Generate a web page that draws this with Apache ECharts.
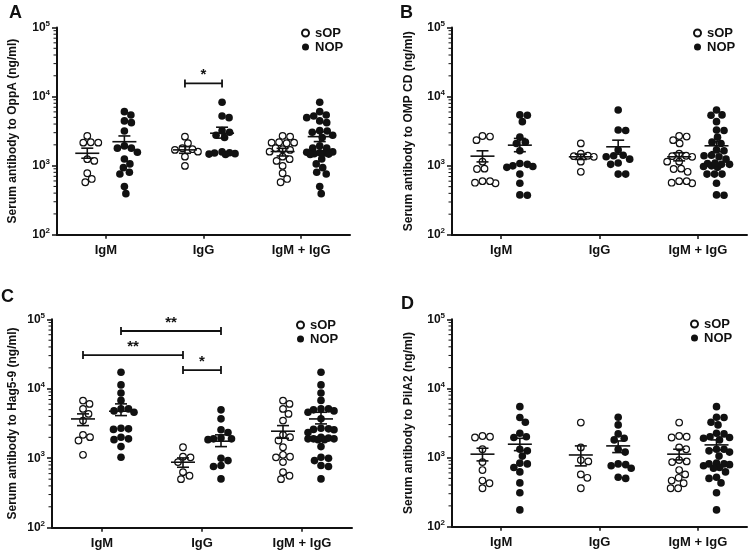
<!DOCTYPE html>
<html>
<head>
<meta charset="utf-8">
<script src="https://cdn.jsdelivr.net/npm/echarts@6/dist/echarts.min.js"></script>
<style>html,body{margin:0;padding:0;background:#fff}#chart{width:750px;height:552px}</style>
</head>
<body>
<div id="chart"></div>
<script>
// ---------- data ----------
const categories = ['IgM', 'IgG', 'IgM + IgG'];
const seriesNames = ['sOP', 'NOP'];
const panelLetters = ['A', 'B', 'C', 'D'];
const antigens = ['OppA', 'OMP CD', 'Hag5-9', 'PilA2'];
const yTickValues = [100, 1000, 10000, 100000];

// Panel A (OppA)
const A_sOP_IgM = [2690, 2150, 2150, 2180, 1170, 1240, 776, 575, 641];
const A_sOP_IgG = [2630, 2110, 1785, 1690, 1730, 1595, 1350, 991];
const A_NOP_IgM = [6050, 5420, 4440, 4190, 3180, 1930, 1790, 1790, 1565, 1250, 1060, 935, 802, 758, 497, 393];
const A_NOP_IgG = [8260, 5240, 4950, 3210, 3040, 2750, 2550, 1580, 1520, 1490, 1470, 1450, 1540];
const A_sOP_mean = [1510, 1690, 1600], A_sOP_lo = [1280, 1510, 1380], A_sOP_hi = [1790, 1890, 1780];
const A_NOP_mean = [2220, 2945, 2630], A_NOP_lo = [1850, 2500, 2230], A_NOP_hi = [2690, 3600, 3100];
const A_brackets = [{ from: [1, 0], to: [1, 1], value: 15500, label: '*' }];

// Panel B (OMP CD)
const B_sOP_IgM = [2650, 2350, 2700, 1150, 910, 900, 600, 560, 570, 600];
const B_sOP_IgG = [2110, 1400, 1350, 1380, 1500, 1150, 820];
const B_NOP_IgM = [5450, 5400, 4350, 2600, 2100, 1650, 1080, 1000, 980, 1050, 950, 760, 560, 380, 375, 2200];
const B_NOP_IgG = [6410, 3300, 3250, 1700, 1400, 1350, 1420, 1100, 1050, 760, 760, 1250];
const B_sOP_mean = [1380, 1350, 1350], B_sOP_lo = [1140, 1235, 1180], B_sOP_hi = [1650, 1475, 1545];
const B_NOP_mean = [1990, 1885, 1950], B_NOP_lo = [1600, 1475, 1600], B_NOP_hi = [2490, 2350, 2230];
const B_brackets = [];

// Panel C (Hag5-9)
const C_sOP_IgM = [6060, 6760, 5130, 4350, 3480, 2010, 2170, 1800, 1120];
const C_sOP_IgG = [1440, 1030, 1050, 880, 630, 560, 500];
const C_NOP_IgM = [17300, 11370, 8700, 6800, 5130, 4600, 5130, 4800, 2650, 2700, 2600, 2000, 1850, 1900, 1470, 1035];
const C_NOP_IgG = [4970, 3690, 2570, 2350, 1950, 1900, 1850, 1900, 1000, 925, 785, 760, 504];
const C_sOP_mean = [3680, 876, 2450], C_sOP_lo = [2950, 742, 1940], C_sOP_hi = [4350, 1010, 2950];
const C_NOP_mean = [4750, 1760, 3680], C_NOP_lo = [4110, 1470, 3120], C_NOP_hi = [6060, 2170, 4590];
const C_brackets = [
  { from: [0, 1], to: [1, 1], value: 67800, label: '**' },
  { from: [0, 0], to: [1, 0], value: 30600, label: '**' },
  { from: [1, 0], to: [1, 1], value: 18600, label: '*' }
];

// Panel D (PilA2)
const D_sOP_IgM = [2000, 1950, 2050, 1320, 860, 660, 465, 425, 360];
const D_sOP_IgG = [3210, 1400, 880, 920, 570, 510, 360];
const D_NOP_IgM = [5450, 3800, 3250, 2250, 2000, 1950, 1320, 1250, 830, 810, 720, 620, 430, 310, 175, 1050];
const D_NOP_IgG = [3830, 2970, 2200, 1900, 1800, 1320, 810, 790, 760, 700, 520, 500, 1200];
const D_sOP_mean = [1120, 1090, 1120], D_sOP_lo = [895, 758, 925], D_sOP_hi = [1365, 1475, 1320];
const D_NOP_mean = [1560, 1475, 1525], D_NOP_lo = [1260, 1180, 1290], D_NOP_hi = [1900, 1740, 1800];
const D_brackets = [];

// ---------- layout ----------
const FONT = '"Liberation Sans", Arial, sans-serif';
const INK = '#111';
const OFF = 0.19; // column offset inside a category (axis units)

const panels = [
  { sOP: [A_sOP_IgM, A_sOP_IgG], NOP: [A_NOP_IgM, A_NOP_IgG],
    sm: A_sOP_mean, sl: A_sOP_lo, sh: A_sOP_hi, nm: A_NOP_mean, nl: A_NOP_lo, nh: A_NOP_hi, br: A_brackets,
    grid: { left: 57, top: 27.5, width: 293, height: 207.2 }, nameGap: 38,
    legend: { left: 301, top: 26 }, letter: { left: 9, top: 4 } },
  { sOP: [B_sOP_IgM, B_sOP_IgG], NOP: [B_NOP_IgM, B_NOP_IgG],
    sm: B_sOP_mean, sl: B_sOP_lo, sh: B_sOP_hi, nm: B_NOP_mean, nl: B_NOP_lo, nh: B_NOP_hi, br: B_brackets,
    grid: { left: 452, top: 27.5, width: 295, height: 207.5 }, nameGap: 37,
    legend: { left: 693, top: 26 }, letter: { left: 400, top: 4 } },
  { sOP: [C_sOP_IgM, C_sOP_IgG], NOP: [C_NOP_IgM, C_NOP_IgG],
    sm: C_sOP_mean, sl: C_sOP_lo, sh: C_sOP_hi, nm: C_NOP_mean, nl: C_NOP_lo, nh: C_NOP_hi, br: C_brackets,
    grid: { left: 52, top: 319.3, width: 300, height: 208.4 }, nameGap: 33,
    legend: { left: 296, top: 318 }, letter: { left: 1, top: 288 } },
  { sOP: [D_sOP_IgM, D_sOP_IgG], NOP: [D_NOP_IgM, D_NOP_IgG],
    sm: D_sOP_mean, sl: D_sOP_lo, sh: D_sOP_hi, nm: D_NOP_mean, nl: D_NOP_lo, nh: D_NOP_hi, br: D_brackets,
    grid: { left: 452, top: 319.3, width: 295, height: 207.4 }, nameGap: 37,
    legend: { left: 690, top: 317 }, letter: { left: 401, top: 295 } }
];

// compact beeswarm: horizontal offsets (axis units) limited to +/-maxPx, overlapping when crowded
function swarm(values, pxPerUnit, pxPerDecade, d, maxPx) {
  const placed = [];
  const offs = new Array(values.length);
  const order = values.map((v, i) => i).sort((a, b) => values[b] - values[a]);
  const cands = [0];
  for (let k = 1; k * 0.5 <= maxPx; k++) { cands.push(k * 0.5, -k * 0.5); }
  for (const i of order) {
    const y = Math.log10(values[i]) * pxPerDecade;
    let best = null, bestScore = -1, bestCand = 0;
    for (const c of cands) {
      let md = Infinity;
      for (const p of placed) {
        const dd = Math.hypot(p.x - c, p.y - y);
        if (dd < md) md = dd;
      }
      if (md >= d) { best = c; break; }
      if (md > bestScore + 0.3) { bestScore = md; bestCand = c; }
    }
    if (best === null) best = bestCand;
    placed.push({ x: best, y });
    offs[i] = best / pxPerUnit;
  }
  return offs;
}

const colX = (g, s) => g + 0.5 + (s === 0 ? -OFF : OFF);

const minorValues = [];
[100, 1000, 10000].forEach(base => { for (let k = 2; k <= 9; k++) minorValues.push(k * base); });

const option = {
  animation: false,
  backgroundColor: '#fff',
  textStyle: { fontFamily: FONT },
  title: [], grid: [], xAxis: [], yAxis: [], legend: [], series: []
};

panels.forEach((p, i) => {
  option.title.push({ text: panelLetters[i], left: p.letter.left, top: p.letter.top, padding: 0,
    textStyle: { fontFamily: FONT, fontWeight: 'bold', fontSize: 18, color: INK } });
  option.grid.push(Object.assign({ containLabel: false }, p.grid));
  option.xAxis.push({ type: 'value', gridIndex: i, min: 0, max: 3, show: false, position: 'bottom' });
  option.xAxis.push({ type: 'category', gridIndex: i, data: categories, position: 'bottom',
    axisLine: { onZero: false, lineStyle: { color: INK, width: 2 } },
    axisTick: { show: true, alignWithLabel: true, interval: 0, length: 4, lineStyle: { color: INK, width: 1.5 } },
    axisLabel: { margin: 9, fontFamily: FONT, fontWeight: 'bold', fontSize: 13, color: INK, interval: 0 },
    splitLine: { show: false } });
  option.yAxis.push({ type: 'log', logBase: 10, gridIndex: i, min: yTickValues[0], max: yTickValues[yTickValues.length - 1],
    name: 'Serum antibody to ' + antigens[i] + ' (ng/ml)', nameLocation: 'middle', nameGap: p.nameGap,
    nameTextStyle: { fontFamily: FONT, fontWeight: 'bold', fontSize: 12, color: INK },
    axisLine: { show: true, onZero: false, lineStyle: { color: INK, width: 2 } },
    axisTick: { show: true, length: 5, lineStyle: { color: INK, width: 1.5 } },
    axisLabel: { margin: 7, color: INK,
      formatter: v => '{b|10}{s|' + Math.round(Math.log10(v)) + '}',
      rich: { b: { fontFamily: FONT, fontWeight: 'bold', fontSize: 12, color: INK, lineHeight: 16 },
              s: { fontFamily: FONT, fontWeight: 'bold', fontSize: 8, color: INK, lineHeight: 8, verticalAlign: 'top' } } },
    splitLine: { show: false } });
  option.legend.push({ orient: 'vertical', left: p.legend.left, top: p.legend.top, padding: 0,
    itemGap: 0, itemWidth: 7, itemHeight: 7, selectedMode: false,
    data: [{ name: 'sOP', icon: 'circle' }, { name: 'NOP', icon: 'circle' }],
    textStyle: { fontFamily: FONT, fontWeight: 'bold', fontSize: 13, color: INK, lineHeight: 14, padding: [0, 0, 0, 1] } });

  const unit = p.grid.width / 3, dec = p.grid.height / 3;
  const xIdx = 2 * i, yIdx = i;
  [p.sOP, p.NOP].forEach((arr, s) => {
    const groupsVals = [arr[0], arr[1], arr[0].concat(arr[1])];
    const data = [];
    groupsVals.forEach((vals, g) => {
      const offs = swarm(vals, unit, dec, 7.2, 13);
      vals.forEach((v, k) => data.push([colX(g, s) + offs[k], v]));
    });
    option.series.push({ type: 'scatter', name: seriesNames[s], xAxisIndex: xIdx, yAxisIndex: yIdx,
      data, symbol: 'circle', symbolSize: s === 0 ? 6.6 : 7.6, z: 2, silent: true,
      itemStyle: s === 0 ? { color: '#fff', borderColor: INK, borderWidth: 1.2, opacity: 1 }
                         : { color: INK, borderWidth: 0, opacity: 1 } });
  });

  const eb = [];
  for (let g = 0; g < 3; g++) {
    eb.push([colX(g, 0), p.sm[g], p.sl[g], p.sh[g]]);
    eb.push([colX(g, 1), p.nm[g], p.nl[g], p.nh[g]]);
  }
  option.series.push({ type: 'custom', name: 'errorbars', xAxisIndex: xIdx, yAxisIndex: yIdx, z: 4, silent: true,
    data: eb, encode: { x: 0, y: [1, 2, 3] },
    renderItem: (params, api) => {
      const x = api.value(0);
      const m = api.coord([x, api.value(1)]);
      const lo = api.coord([x, api.value(2)]);
      const hi = api.coord([x, api.value(3)]);
      const st = { stroke: INK, lineWidth: 1.6 };
      return { type: 'group', children: [
        { type: 'line', shape: { x1: m[0] - 12, y1: m[1], x2: m[0] + 12, y2: m[1] }, style: st },
        { type: 'line', shape: { x1: m[0], y1: lo[1], x2: m[0], y2: hi[1] }, style: st },
        { type: 'line', shape: { x1: m[0] - 6, y1: lo[1], x2: m[0] + 6, y2: lo[1] }, style: st },
        { type: 'line', shape: { x1: m[0] - 6, y1: hi[1], x2: m[0] + 6, y2: hi[1] }, style: st }
      ] };
    } });

  if (p.br.length) {
    const br = p.br;
    option.series.push({ type: 'custom', name: 'brackets', xAxisIndex: xIdx, yAxisIndex: yIdx, z: 4, silent: true,
      data: br.map(b => [colX(b.from[0], b.from[1]), colX(b.to[0], b.to[1]), b.value]),
      encode: { x: [0, 1], y: 2 },
      renderItem: (params, api) => {
        const a = api.coord([api.value(0), api.value(2)]);
        const b = api.coord([api.value(1), api.value(2)]);
        const st = { stroke: INK, lineWidth: 1.8 };
        return { type: 'group', children: [
          { type: 'line', shape: { x1: a[0], y1: a[1], x2: b[0], y2: b[1] }, style: st },
          { type: 'line', shape: { x1: a[0], y1: a[1] - 4, x2: a[0], y2: a[1] + 4 }, style: st },
          { type: 'line', shape: { x1: b[0], y1: b[1] - 4, x2: b[0], y2: b[1] + 4 }, style: st },
          { type: 'text', style: { text: br[params.dataIndex].label, x: (a[0] + b[0]) / 2, y: a[1] - 1,
              align: 'center', verticalAlign: 'bottom', fill: INK, font: 'bold 15px ' + FONT } }
        ] };
      } });
  }

  option.series.push({ type: 'custom', name: 'minorTicks', xAxisIndex: xIdx, yAxisIndex: yIdx, z: 1, silent: true,
    data: minorValues.map(v => [0, v]), encode: { x: 0, y: 1 }, clip: false,
    renderItem: (params, api) => {
      const c = api.coord([0, api.value(1)]);
      return { type: 'line', shape: { x1: c[0] - 3.5, y1: c[1], x2: c[0] - 1, y2: c[1] },
        style: { stroke: INK, lineWidth: 1 } };
    } });
});

const chart = echarts.init(document.getElementById('chart'), null, { renderer: 'canvas' });
chart.setOption(option);
</script>
</body>
</html>
